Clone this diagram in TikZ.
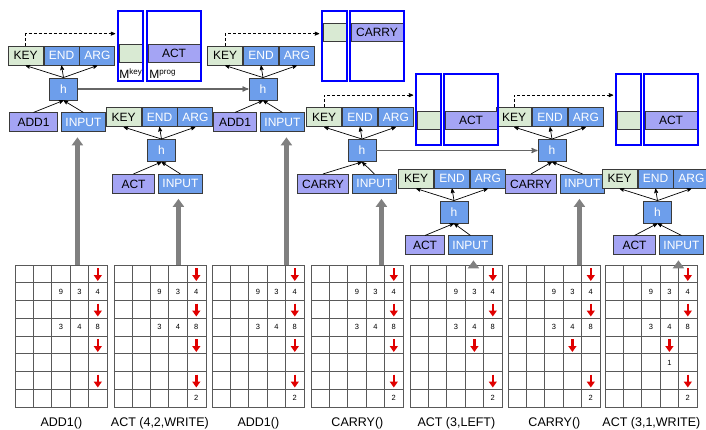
\documentclass[tikz,border=0pt]{standalone}
\usepackage{fontspec}
\setmainfont{Liberation Sans}
\usetikzlibrary{arrows,arrows.meta,positioning,calc}
\definecolor{keygreen}{HTML}{D9EAD3}
\definecolor{argblue}{HTML}{6D9EEB}
\definecolor{oplav}{HTML}{A4A4F4}
\definecolor{boxline}{HTML}{3A3A3A}
\definecolor{penred}{HTML}{E00000}
\tikzstyle{every picture}+=[>=stealth']
\tikzstyle{boxc}=[rectangle,draw=boxline,line width=0.9pt,inner sep=0pt,minimum height=19pt,font=\fontsize{12}{12}\selectfont]
\tikzstyle{keyc}=[boxc,fill=keygreen,minimum width=35pt]
\tikzstyle{argc}=[boxc,fill=argblue,text=white,minimum width=35pt]
\tikzstyle{opc}=[boxc,fill=oplav]
\tikzstyle{hc}=[boxc,fill=argblue,text=white,minimum width=28pt,minimum height=22pt]
\tikzstyle{mem}=[rectangle,draw=blue,line width=1.5pt,inner sep=0pt,minimum height=70pt]
\tikzstyle{mlabel}=[anchor=base west,inner sep=0pt,font=\fontsize{12}{12}\selectfont]
\tikzstyle{tapebox}=[rectangle,draw=black!65,line width=0.8pt,inner sep=0pt,minimum width=92pt,minimum height=142pt]
\tikzstyle{tapeline}=[draw=black!65,line width=0.8pt]
\tikzstyle{digit}=[inner sep=0pt,font=\fontsize{7.5}{8}\selectfont]
\tikzstyle{penarrow}=[penred,line width=2.6pt,-{Triangle[width=8pt,length=6pt]}]
\tikzstyle{bigarr}=[black!50,line width=4.5pt,-{Triangle[width=11pt,length=8pt]}]
\tikzstyle{link}=[->,black!60,line width=1.2pt]
\tikzstyle{lbl}=[inner sep=0pt,font=\fontsize{12.5}{13}\selectfont]

% one step: h, its two inputs and KEY/END/ARG
\newcommand{\corestep}[5]{%
  \node[hc] (h#1) at #2 {h};
  \node[argc,above=12pt of h#1,xshift=-2pt] (end#1) {END};
  \node[keyc,left=0pt of end#1] (key#1) {KEY};
  \node[argc,right=0pt of end#1] (arg#1) {ARG};
  \node[argc,below=12pt of h#1,anchor=north west,xshift=#5,minimum width=44pt] (in#1) {INPUT};
  \node[opc,left=3pt of in#1,minimum width=#4] (op#1) {#3};
  \draw[->,line width=0.7pt] (h#1.north) -- (key#1.south);
  \draw[->,line width=0.7pt] (h#1.north) -- (end#1.south);
  \draw[->,line width=0.7pt] (h#1.north) -- (arg#1.south);
  \draw[->,line width=0.7pt] (op#1.north) -- (h#1.south);
  \draw[->,line width=0.7pt] (in#1.north) -- (h#1.south);
}
% scratch pad grid, 5 x 8
\newcommand{\tape}[2]{%
  \node[tapebox,anchor=north west] (g#1) at (#2,265) {};
  \foreach \c in {1,...,4} \draw[tapeline] ($(g#1.north west)+(\c*18.4,0)$) -- ++(0,142);
  \foreach \r in {1,...,7} \draw[tapeline] ($(g#1.north west)+(0,\r*17.75)$) -- ++(92,0);
}
\newcommand{\dig}[4]{\node[digit] (g#1c#2r#3) at ($(g#1.north west)+(#2*18.4+9.2,#3*17.75+8.9)$) {#4};}
\newcommand{\penmark}[3]{\draw[penarrow] ($(g#1.north west)+(#2*18.4+9.2,#3*17.75+3)$) -- ++(0,13);}

\begin{document}
\begin{tikzpicture}[x=1pt,y=-1pt]
\useasboundingbox (0,0) rectangle (706,430);
\clip (0,0) rectangle (706,430);

\corestep{1}{(63.5,89)}{ADD1}{48pt}{-2.5pt}
\corestep{2}{(161.5,150.5)}{ACT}{42pt}{-3.5pt}
\corestep{3}{(263,89)}{ADD1}{43pt}{-3pt}
\corestep{4}{(362,150.5)}{CARRY}{51pt}{-10pt}
\corestep{5}{(454,212)}{ACT}{39pt}{-6pt}
\corestep{6}{(552,150.5)}{CARRY}{51pt}{8pt}
\corestep{7}{(657.5,212)}{ACT}{42pt}{1.5pt}

\draw[link] (h1) -- (h3);
\draw[link] (h4) -- (h6);

% memories
\node[keyc,minimum width=23pt,minimum height=18pt] (mkc1) at (130.5,53) {};
\node[opc,minimum width=52pt,minimum height=18pt] (mpc1) at (174,53) {ACT};
\node[mem,minimum width=25pt] (mk1) at (130.5,46) {};
\node[mem,minimum width=54pt] (mp1) at (174,46) {};
\node[mlabel] (mkl) at ($(mk1.south west)+(2,-3)$) {M\textsuperscript{key}};
\node[mlabel] (mpl) at ($(mp1.south west)+(3,-3)$) {M\textsuperscript{prog}};

\node[keyc,minimum width=23pt,minimum height=18pt] (mkc2) at (334.5,32) {};
\node[opc,minimum width=52pt,minimum height=18pt] (mpc2) at (377,32) {CARRY};
\node[mem,minimum width=25pt] (mk2) at (334.5,46) {};
\node[mem,minimum width=54pt] (mp2) at (377,46) {};

\node[keyc,minimum width=23pt,minimum height=18pt] (mkc3) at (428.5,120.5) {};
\node[opc,minimum width=52pt,minimum height=18pt] (mpc3) at (471,120.5) {ACT};
\node[mem,minimum width=25pt,minimum height=71pt] (mk3) at (428.5,109.5) {};
\node[mem,minimum width=54pt,minimum height=71pt] (mp3) at (471,109.5) {};

\node[keyc,minimum width=23pt,minimum height=18pt] (mkc4) at (628.5,120.5) {};
\node[opc,minimum width=52pt,minimum height=18pt] (mpc4) at (671,120.5) {ACT};
\node[mem,minimum width=25pt,minimum height=71pt] (mk4) at (628.5,109.5) {};
\node[mem,minimum width=54pt,minimum height=71pt] (mp4) at (671,109.5) {};

\foreach \k/\m in {1/1,3/2,4/3,6/4}
  \draw[->,line width=0.7pt,dash pattern=on 3pt off 2pt,shorten >=2pt]
    (key\k.north) -- ++(0,-12) coordinate (dk\k) -- (dk\k -| mk\m.west);

% scratch pads
\foreach \g/\x/\pc in {1/15/4,2/113.5/4,3/212/4,4/311/4,5/410/3,6/508/3,7/605/3} {
  \tape{\g}{\x}
  \dig{\g}{2}{1}{9} \dig{\g}{3}{1}{3} \dig{\g}{4}{1}{4}
  \dig{\g}{2}{3}{3} \dig{\g}{3}{3}{4} \dig{\g}{4}{3}{8}
  \penmark{\g}{4}{0} \penmark{\g}{4}{2} \penmark{\g}{\pc}{4} \penmark{\g}{4}{6}
}
\foreach \g in {2,...,7} \dig{\g}{4}{7}{2};
\dig{7}{3}{5}{1}

\foreach \g/\t in {1/{ADD1()},2/{ACT (4,2,WRITE)},3/{ADD1()},4/{CARRY()},5/{ACT (3,LEFT)},6/{CARRY()},7/{ACT (3,1,WRITE)}}
  \node[lbl,anchor=base] (l\g) at ($(g\g.south)+(0,19)$) {\t};

\foreach \i/\dx in {1/-6,2/-2,3/4,4/7,5/3,6/-3,7/-3}
  \draw[bigarr] ([xshift=\dx pt]in\i.south |- g\i.north) -- ([xshift=\dx pt,yshift=-5pt]in\i.south);
\end{tikzpicture}
\end{document}
